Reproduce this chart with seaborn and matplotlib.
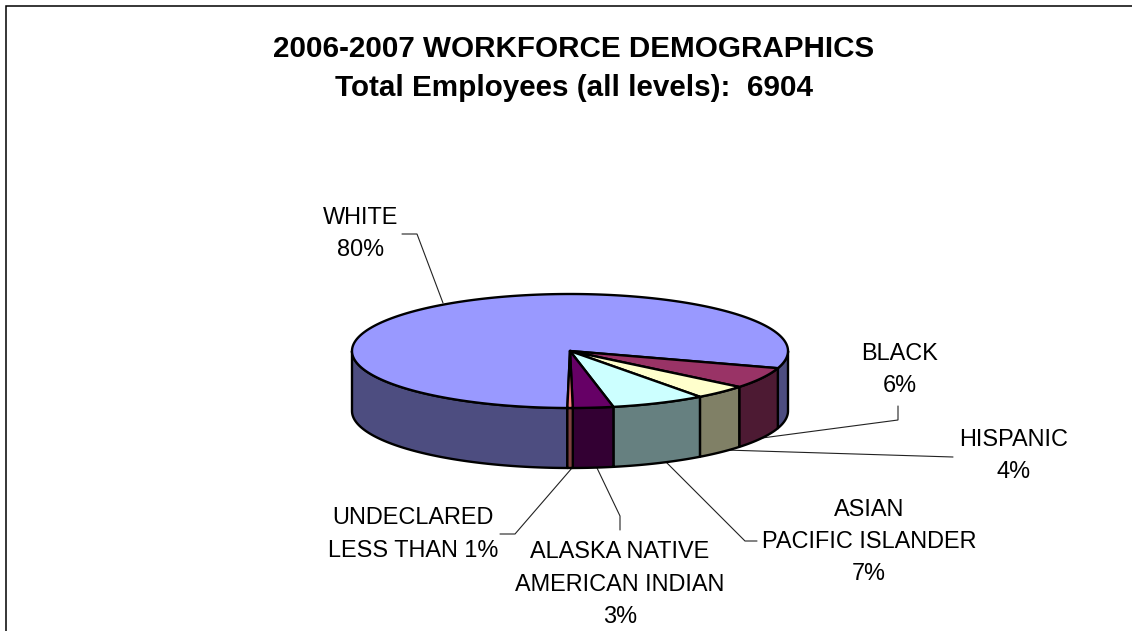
import numpy as np
import matplotlib
matplotlib.use("Agg")
import matplotlib.pyplot as plt
from matplotlib.patches import Polygon
import seaborn as sns

# Workforce shares in percent, clockwise from the bottom of the pie
groups = ["WHITE", "BLACK", "HISPANIC", "ASIAN PACIFIC ISLANDER",
          "ALASKA NATIVE AMERICAN INDIAN", "UNDECLARED"]
shares = [80, 6, 4, 7, 3, 0.4]
top_hex = ["#9999FF", "#993366", "#FFFFCC", "#CCFFFF", "#660066", "#FF8080"]

title_lines = ["2006-2007 WORKFORCE DEMOGRAPHICS", "Total Employees (all levels):  6904"]

# Each label: text lines, centre x, first line y
label_lines = [
    (["WHITE", "80%"], 361, 217),
    (["BLACK", "6%"], 900, 353),
    (["HISPANIC", "4%"], 1014, 439),
    (["ASIAN", "PACIFIC ISLANDER", "7%"], 869, 509),
    (["ALASKA NATIVE", "AMERICAN INDIAN", "3%"], 620, 552),
    (["UNDECLARED", "LESS THAN 1%"], 413, 518),
]

# Leader polylines in figure pixels
leaders = [
    [(443, 303), (417, 234), (402, 234)],
    [(762, 438), (898, 420), (898, 406)],
    [(725, 450), (953, 457)],
    [(665, 461), (745, 541), (757, 541)],
    [(597, 468), (620, 516), (620, 530)],
    [(572, 468), (515, 534), (500, 534)],
]

sns.set_theme(style="white", rc={"font.family": ["Liberation Sans", "DejaVu Sans"]})
top_colors = sns.color_palette(top_hex)
side_colors = [tuple(c * 0.5 for c in col) for col in top_colors]

W, H = 1132, 631
fig = plt.figure(figsize=(W / 100, H / 100), dpi=100, facecolor="white")
ax = fig.add_axes([0, 0, 1, 1])
ax.set_xlim(0, W)
ax.set_ylim(H, 0)
ax.axis("off")

# Pie geometry
cx, cy, rx, ry, depth = 570, 351, 218, 57, 60
edge = dict(edgecolor="black", linewidth=1.7, joinstyle="round")


def rim(t_deg, drop=0.0):
    t = np.radians(t_deg)
    return np.column_stack([cx + rx * np.cos(t), cy - ry * np.sin(t) + drop])


# Slice boundaries, going clockwise in parametric ellipse angle
sweep = 360 * np.array(shares) / np.sum(shares)
start = -90.7
bounds = start - np.concatenate([[0], np.cumsum(sweep)])

# Side walls, only where the rim faces the viewer
for a0, a1, col in zip(bounds[:-1], bounds[1:], side_colors):
    for shift in (0, 360):
        hi, lo = min(a0 + shift, 0), max(a1 + shift, -180)
        if hi <= lo:
            continue
        ts = np.linspace(lo, hi, 80)
        pts = np.vstack([rim(ts), rim(ts[::-1], depth)])
        ax.add_patch(Polygon(pts, closed=True, facecolor=col, zorder=2, **edge))

# Top faces
for a0, a1, col in zip(bounds[:-1], bounds[1:], top_colors):
    ts = np.linspace(a0, a1, max(int(abs(a1 - a0)) * 2, 8))
    pts = np.vstack([[[cx, cy]], rim(ts)])
    ax.add_patch(Polygon(pts, closed=True, facecolor=col, zorder=3, **edge))

for path in leaders:
    xs, ys = zip(*path)
    ax.plot(xs, ys, color="#222222", lw=0.8, zorder=1, solid_joinstyle="miter")

for lines, x, y in label_lines:
    for i, line in enumerate(lines):
        ax.text(x, y + i * 32.3, line, ha="center", va="center",
                fontsize=16.9, color="black", zorder=5)

for i, line in enumerate(title_lines):
    ax.text(574, 49 + i * 39, line, ha="center", va="center",
            fontsize=21.3, fontweight="bold", color="black", zorder=5)

# Outer chart border, running off the right and bottom of the canvas
ax.plot([6, 6, W + 5], [H + 5, 6, 6], color="black", lw=1.1, zorder=6,
        solid_joinstyle="miter", clip_on=False)

fig.savefig("out.png", dpi=100, facecolor="white")
